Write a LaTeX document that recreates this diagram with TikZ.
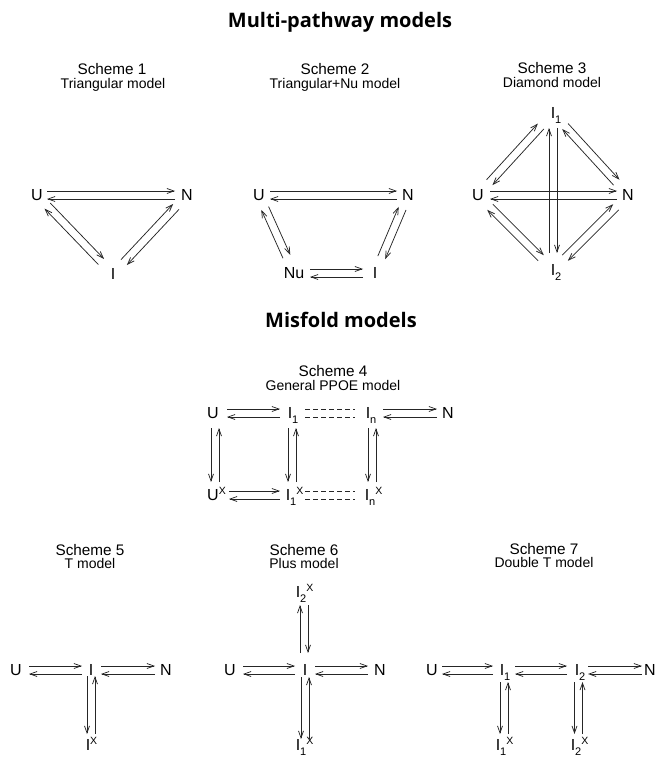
\documentclass[tikz,border=0pt]{standalone}
\usepackage{fontspec}
\setmainfont{Liberation Sans}
\newfontfamily\titlefont{Open Sans}
\usetikzlibrary{calc,arrows.meta}
\newcommand\offs{4pt}
\newcommand\lsub[1]{\rlap{\raisebox{-4.4pt}{\fontsize{11}{11}\selectfont #1}}}
\newcommand\lsup[1]{\rlap{\raisebox{5.8pt}{\fontsize{10.5}{10.5}\selectfont X}}}
\newcommand\lsubsup[2]{\rlap{\raisebox{-4.4pt}{\fontsize{11}{11}\selectfont #1}\raisebox{5.8pt}{\fontsize{10.5}{10.5}\selectfont #2}}}
% two opposite arrows, each on the left of its own direction
\newcommand\rxx[4]{%
  \draw[arr,shorten <=#3,shorten >=#4] ($(#1)!\offs!90:(#2)$) -- ($(#2)!\offs!-90:(#1)$);
  \draw[arr,shorten <=#4,shorten >=#3] ($(#2)!\offs!90:(#1)$) -- ($(#1)!\offs!-90:(#2)$);}
% two dashed lines
\newcommand\dpair[4]{%
  \draw[dsh,shorten <=#3,shorten >=#4] ($(#1)!\offs!90:(#2)$) -- ($(#2)!\offs!-90:(#1)$);
  \draw[dsh,shorten <=#3,shorten >=#4] ($(#1)!\offs!-90:(#2)$) -- ($(#2)!\offs!90:(#1)$);}
% vertical pair, down arrow on the left
\newcommand\vpL[5]{%
  \draw[arr] ($(#1)+(#3-\offs,-#4)$) -- ($(#1|-#2)+(#3-\offs,#5)$);
  \draw[arr] ($(#1|-#2)+(#3+\offs,#5)$) -- ($(#1)+(#3+\offs,-#4)$);}
% vertical pair, down arrow on the right
\newcommand\vpR[5]{%
  \draw[arr] ($(#1)+(#3+\offs,-#4)$) -- ($(#1|-#2)+(#3+\offs,#5)$);
  \draw[arr] ($(#1|-#2)+(#3-\offs,#5)$) -- ($(#1)+(#3-\offs,-#4)$);}
\begin{document}
\begin{tikzpicture}[x=1pt,y=-1pt,
  lbl/.style={font=\fontsize{16}{16}\selectfont, inner sep=0pt, text height=11.5pt, text depth=0pt},
  sch/.style={font=\fontsize{15.3}{16}\selectfont, anchor=base, inner sep=0pt},
  subt/.style={font=\fontsize{14}{15}\selectfont, anchor=base, inner sep=0pt},
  ttl/.style={font=\titlefont\bfseries\fontsize{20}{22}\selectfont, anchor=base, inner sep=0pt},
  arr/.style={draw=black!85, line width=0.75pt, -{Straight Barb[length=7pt,width=5pt]}},
  dsh/.style={draw=black!85, line width=0.75pt, dash pattern=on 5pt off 3pt}]
\useasboundingbox (0,0) rectangle (656,759);
% titles
\node[ttl] (t1) at (340,28) {Multi-pathway models};
\node[ttl] (t2) at (341,327.5) {Misfold models};
\node[sch] (s1) at (112,75) {Scheme 1};
\node[subt] (m1) at (113,88.5) {Triangular model};
\node[sch] (s2) at (335,75) {Scheme 2};
\node[subt] (m2) at (335,88.5) {Triangular+Nu model};
\node[sch] (s3) at (552,74) {Scheme 3};
\node[subt] (m3) at (552,88) {Diamond model};
\node[sch] (s4) at (333,376.5) {Scheme 4};
\node[subt] (m4) at (333,390) {General PPOE model};
\node[sch] (s5) at (90,555) {Scheme 5};
\node[subt] (m5) at (90,568.5) {T model};
\node[sch] (s6) at (304,555) {Scheme 6};
\node[subt] (m6) at (304,568.5) {Plus model};
\node[sch] (s7) at (544,554) {Scheme 7};
\node[subt] (m7) at (544,567.5) {Double T model};
% scheme 1
\node[lbl] (aU) at (37,195) {U};
\node[lbl] (aN) at (187,195) {N};
\node[lbl] (aI) at (113,274) {I};
\rxx{aU}{aN}{10pt}{12pt}
\rxx{aU}{aI}{15pt}{17pt}
\rxx{aN}{aI}{16pt}{16pt}
% scheme 2
\node[lbl] (bU) at (259,195) {U};
\node[lbl] (bN) at (408,195) {N};
\node[lbl] (bNu) at (294,273) {Nu};
\node[lbl] (bI) at (375,273) {I};
\rxx{bU}{bN}{11pt}{11pt}
\rxx{bU}{bNu}{14.5pt}{18pt}
\rxx{bN}{bI}{14.5pt}{16.7pt}
\rxx{bNu}{bI}{16pt}{12pt}
% scheme 3
\node[lbl] (cU) at (478,195) {U};
\node[lbl] (cN) at (628,195) {N};
\node[lbl] (cI1) at (553,113) {I\lsub{1}};
\node[lbl] (cI2) at (553,270) {I\lsub{2}};
\rxx{cU}{cN}{12pt}{11pt}
\rxx{cU}{cI1}{17pt}{18pt}
\rxx{cI1}{cN}{18pt}{17pt}
\rxx{cU}{cI2}{17pt}{17pt}
\rxx{cI2}{cN}{17pt}{17pt}
\vpR{cI1}{cI2}{0pt}{15pt}{17pt}
% scheme 4
\node[lbl] (dU) at (213,413) {U};
\node[lbl] (dI1) at (290,413) {I\lsub{1}};
\node[lbl] (dIn) at (368,413) {I\lsub{n}};
\node[lbl] (dN) at (448,413) {N};
\node[lbl] (dUx) at (213,495) {U\lsup{X}};
\node[lbl] (dI1x) at (288,495) {I\lsubsup{1}{X}};
\node[lbl] (dInx) at (367,495) {I\lsubsup{n}{X}};
\rxx{dU}{dI1}{14pt}{10pt}
\dpair{dI1}{dIn}{15pt}{13pt}
\rxx{dIn}{dN}{15pt}{11pt}
\rxx{dUx}{dI1x}{16pt}{8pt}
\dpair{dI1x}{dInx}{17pt}{12pt}
\vpL{dU}{dUx}{2pt}{15pt}{13pt}
\vpL{dI1}{dI1x}{2pt}{15pt}{13pt}
\vpL{dIn}{dInx}{4pt}{15pt}{13pt}
% scheme 5
\node[lbl] (eU) at (16,670) {U};
\node[lbl] (eI) at (91,670) {I};
\node[lbl] (eN) at (166,670) {N};
\node[lbl] (eIx) at (88,745) {I\lsup{X}};
\rxx{eU}{eI}{13pt}{9pt}
\rxx{eI}{eN}{10pt}{11pt}
\vpL{eI}{eIx}{0pt}{6pt}{11pt}
% scheme 6
\node[lbl] (fU) at (230,670) {U};
\node[lbl] (fI) at (305,670) {I};
\node[lbl] (fN) at (380,670) {N};
\node[lbl] (fI2x) at (298,592) {I\lsubsup{2}{X}};
\node[lbl] (fI1x) at (298,745) {I\lsubsup{1}{X}};
\rxx{fU}{fI}{13pt}{10pt}
\rxx{fI}{fN}{10pt}{12pt}
\vpR{fI2x}{fI}{6pt}{13pt}{17pt}
\vpL{fI}{fI1x}{0pt}{7pt}{6pt}
% scheme 7
\node[lbl] (gU) at (432,670) {U};
\node[lbl] (gI1) at (502,670) {I\lsub{1}};
\node[lbl] (gI2) at (577,670) {I\lsub{2}};
\node[lbl] (gN) at (650,670) {N};
\node[lbl] (gI1x) at (498,745) {I\lsubsup{1}{X}};
\node[lbl] (gI2x) at (573,745) {I\lsubsup{2}{X}};
\rxx{gU}{gI1}{10pt}{9pt}
\rxx{gI1}{gI2}{13pt}{10pt}
\rxx{gI2}{gN}{11pt}{8pt}
\vpL{gI1}{gI1x}{2pt}{12pt}{11pt}
\vpL{gI2}{gI2x}{1.5pt}{12pt}{11pt}
\end{tikzpicture}
\end{document}
